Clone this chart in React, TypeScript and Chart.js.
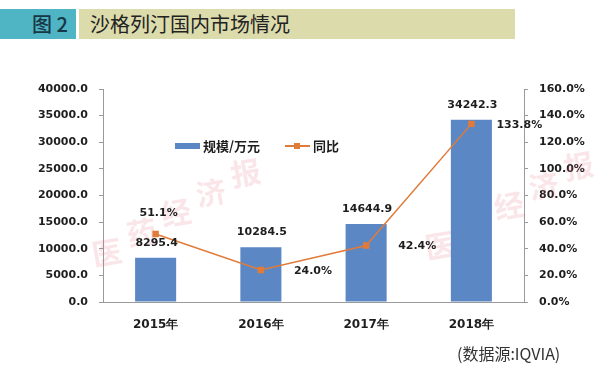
import React, { useEffect, useRef } from "react";
import { Chart, registerables } from "chart.js";

Chart.register(...registerables);

const categories = ["2015年", "2016年", "2017年", "2018年"];
const scaleValues = [8295.4, 10284.5, 14644.9, 34242.3];
const yoyValues = [51.1, 24.0, 42.4, 133.8];
const leftTicks = { min: 0, max: 40000, step: 5000 };
const rightTicks = { min: 0, max: 160, step: 20 };
const seriesNames = ["规模/万元", "同比"];
const titleNo = "图 2";
const titleText = "沙格列汀国内市场情况";
const sourceText = "(数据源:IQVIA)";
const watermark = "医药经济报";

const BLUE = "#5b87c5";
const ORANGE = "#e07b39";
const AXIS = "#9a9a9a";
const TXT = "#1e1e1e";
const FONT = "'DejaVu Sans', Verdana, sans-serif";

// label placement (style): offsets relative to each point for the line labels
const lineLabelPlace = [
  { dx: 3, dy: -21, align: "center" },
  { dx: 33, dy: 1, align: "left" },
  { dx: 32, dy: 1, align: "left" },
  { dx: 25, dy: 1, align: "left" },
];

const labelPlugin = {
  id: "valueLabels",
  beforeDatasetsDraw(chart: any) {
    const ctx = chart.ctx;
    ctx.save();
    ctx.fillStyle = "rgba(225, 95, 120, 0.16)";
    ctx.font = "bold 30px 'Noto Sans CJK SC', sans-serif";
    ctx.textBaseline = "middle";
    ctx.textAlign = "left";
    const spots = [
      { x: 92, y: 255 },
      { x: 425, y: 248 },
    ];
    for (const s of spots) {
      ctx.save();
      ctx.translate(s.x, s.y);
      ctx.rotate(-0.52);
      let x = 0;
      for (const ch of watermark) {
        ctx.save();
        ctx.translate(x, 0);
        ctx.rotate(0.35);
        ctx.fillText(ch, 0, 0);
        ctx.restore();
        x += 40;
      }
      ctx.restore();
    }
    ctx.restore();
  },
  afterDatasetsDraw(chart: any) {
    const ctx = chart.ctx;
    ctx.save();
    ctx.fillStyle = TXT;
    ctx.font = `bold 11px ${FONT}`;
    ctx.textBaseline = "middle";
    const barMeta = chart.getDatasetMeta(0);
    barMeta.data.forEach((el: any, i: number) => {
      ctx.textAlign = "center";
      ctx.fillText(scaleValues[i].toFixed(1), el.x + 1, el.y - 15);
    });
    const lineMeta = chart.getDatasetMeta(1);
    lineMeta.data.forEach((el: any, i: number) => {
      const p = lineLabelPlace[i];
      ctx.textAlign = p.align;
      ctx.fillText(yoyValues[i].toFixed(1) + "%", el.x + p.dx, el.y + p.dy);
    });
    ctx.restore();
  },
};

export default function App() {
  const ref = useRef<HTMLCanvasElement | null>(null);

  useEffect(() => {
    if (!ref.current) return;
    const tickFont = { family: FONT, size: 11, weight: "bold" as const };
    const chart = new Chart(ref.current, {
      type: "bar",
      data: {
        labels: categories,
        datasets: [
          {
            type: "bar",
            label: seriesNames[0],
            data: scaleValues,
            yAxisID: "y",
            backgroundColor: BLUE,
            barPercentage: 0.39,
            categoryPercentage: 1,
            order: 2,
          } as any,
          {
            type: "line",
            label: seriesNames[1],
            data: yoyValues,
            yAxisID: "y1",
            borderColor: ORANGE,
            borderWidth: 1.5,
            backgroundColor: ORANGE,
            pointStyle: "rect",
            pointRadius: 3.5,
            pointBackgroundColor: ORANGE,
            pointBorderColor: ORANGE,
            tension: 0,
            order: 1,
          } as any,
        ],
      },
      options: {
        animation: false,
        responsive: false,
        maintainAspectRatio: false,
        layout: { padding: { top: 89, left: 0, right: 0, bottom: 0 } },
        plugins: { legend: { display: false }, tooltip: { enabled: false } },
        scales: {
          x: {
            grid: { display: false, drawTicks: false },
            border: { display: true, color: AXIS, width: 1 },
            ticks: { font: { family: FONT, size: 12, weight: "bold" }, color: TXT, padding: 16 },
            afterFit: (s: any) => {
              s.height = 65;
            },
          },
          y: {
            position: "left",
            min: leftTicks.min,
            max: leftTicks.max,
            grid: { drawOnChartArea: false, drawTicks: true, tickLength: 4, color: AXIS },
            border: { display: true, color: AXIS, width: 1 },
            ticks: {
              stepSize: leftTicks.step,
              font: tickFont,
              color: TXT,
              padding: 11,
              callback: (v: any) => Number(v).toFixed(1),
            },
            afterFit: (s: any) => {
              s.width = 103;
            },
          },
          y1: {
            position: "right",
            min: rightTicks.min,
            max: rightTicks.max,
            grid: { drawOnChartArea: false, drawTicks: true, tickLength: 4, color: AXIS },
            border: { display: true, color: AXIS, width: 1 },
            ticks: {
              stepSize: rightTicks.step,
              font: tickFont,
              color: TXT,
              padding: 11,
              callback: (v: any) => Number(v).toFixed(1) + "%",
            },
            afterFit: (s: any) => {
              s.width = 76;
            },
          },
        },
      } as any,
      plugins: [labelPlugin],
    });
    return () => chart.destroy();
  }, []);

  return (
    <div
      style={{
        position: "absolute",
        left: 0,
        top: 0,
        width: 600,
        height: 367,
        background: "#ffffff",
        overflow: "hidden",
        fontFamily: "'Noto Sans CJK SC', sans-serif",
      }}
    >
      <canvas ref={ref} width={600} height={367} style={{ position: "absolute", left: 0, top: 0 }} />
      <div
        style={{
          position: "absolute",
          left: 0,
          top: 9,
          width: 76,
          height: 30,
          background: "#4fb4c4",
          color: "#173646",
          fontSize: 20,
          lineHeight: "30px",
          textAlign: "right",
          paddingRight: 8,
          boxSizing: "border-box",
          fontWeight: 500,
        }}
      >
        {titleNo}
      </div>
      <div
        style={{
          position: "absolute",
          left: 79,
          top: 9,
          width: 436,
          height: 30,
          background: "#dcdbab",
          color: "#222",
          fontSize: 20,
          lineHeight: "30px",
          paddingLeft: 11,
          boxSizing: "border-box",
        }}
      >
        {titleText}
      </div>
      <div style={{ position: "absolute", left: 175, top: 143, width: 25, height: 6, background: BLUE }} />
      <div
        style={{
          position: "absolute",
          left: 203,
          top: 136,
          fontSize: 13,
          lineHeight: "20px",
          fontWeight: 700,
          color: TXT,
          whiteSpace: "nowrap",
        }}
      >
        {seriesNames[0]}
      </div>
      <div style={{ position: "absolute", left: 285, top: 145, width: 25, height: 2, background: ORANGE }} />
      <div style={{ position: "absolute", left: 294, top: 143, width: 6, height: 6, background: ORANGE }} />
      <div
        style={{
          position: "absolute",
          left: 313,
          top: 136,
          fontSize: 13,
          lineHeight: "20px",
          fontWeight: 700,
          color: TXT,
          whiteSpace: "nowrap",
        }}
      >
        {seriesNames[1]}
      </div>
      <div
        style={{
          position: "absolute",
          left: 457,
          top: 342,
          fontSize: 16,
          lineHeight: "22px",
          color: "#333",
          whiteSpace: "nowrap",
        }}
      >
        {sourceText}
      </div>
    </div>
  );
}
